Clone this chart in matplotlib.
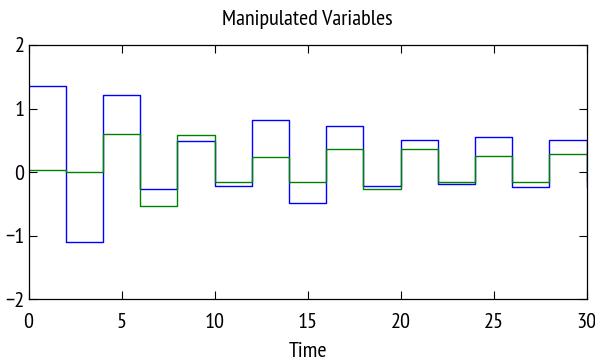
import matplotlib
matplotlib.use("Agg")
import matplotlib.pyplot as plt

time = [0, 2, 4, 6, 8, 10, 12, 14, 16, 18, 20, 22, 24, 26, 28, 30]
u1 = [1.36, -1.10, 1.22, -0.27, 0.49, -0.215, 0.82, -0.49, 0.72, -0.225, 0.50, -0.18, 0.545, -0.23, 0.51, -0.23]
u2 = [0.03, 0.0, 0.60, -0.53, 0.58, -0.15, 0.23, -0.15, 0.37, -0.26, 0.37, -0.15, 0.26, -0.15, 0.28, -0.14]
xticks = [0, 5, 10, 15, 20, 25, 30]
yticks = [-2, -1, 0, 1, 2]

plt.rcParams['font.family'] = ['PT Sans Narrow', 'Liberation Sans', 'DejaVu Sans']

fig = plt.figure(figsize=(5.95, 3.62), dpi=100)
ax = fig.add_axes([0.048, 0.173, 0.938, 0.703])
ax.step(time, u1, where='post', color='#0000ff', lw=1.0)
ax.step(time, u2, where='post', color='#008000', lw=1.0)
ax.set_xlim(0, 30)
ax.set_ylim(-2, 2)
ax.set_xticks(xticks)
ax.set_yticks(yticks)
ax.tick_params(direction='in', top=True, right=True, labelsize=16, length=6)
ax.tick_params(axis='x', pad=10)
ax.tick_params(axis='y', pad=3)
ax.set_title("Manipulated Variables", fontsize=16, pad=14)
ax.set_xlabel("Time", fontsize=16, labelpad=7)
for s in ax.spines.values():
    s.set_linewidth(0.9)
fig.savefig("out.png", dpi=100)
